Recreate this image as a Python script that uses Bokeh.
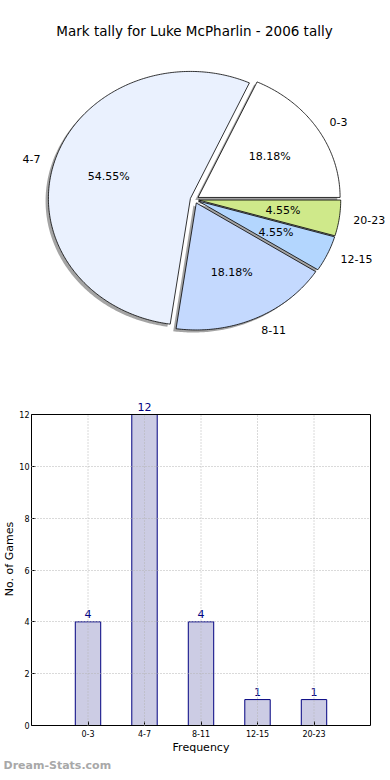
import numpy as np
from bokeh.plotting import figure
from bokeh.models import Range1d, FixedTicker, Label, LabelSet, ColumnDataSource, Title
from bokeh.embed import file_html
from bokeh.resources import INLINE
from bokeh.core.properties import value

# ---------------- data ----------------
title_text = "Mark tally for Luke McPharlin - 2006 tally"
categories = ["0-3", "4-7", "8-11", "12-15", "20-23"]
counts = [4, 12, 4, 1, 1]
pie_colors = ["#ffffff", "#eaf1fe", "#c4d9fe", "#b3d6fe", "#cfe98a"]
x_label = "Frequency"
y_label = "No. of Games"
y_ticks = [0, 2, 4, 6, 8, 10, 12]
y_max = 12
watermark = "Dream-Stats.com"

FONT = "DejaVu Sans"

# ---------------- pie ----------------
PW, PH = 390, 372
CX, CY = 194, 199      # pie centre in px (from left / top)
RX, RY = 142, 127      # radii in px
EXPLODE = 0.03
SHADOW = 0.02

pie = figure(width=PW, height=PH, output_backend="svg", toolbar_location=None,
             x_range=Range1d(-CX / RX, (PW - CX) / RX),
             y_range=Range1d(-(PH - CY) / RY, CY / RY),
             x_axis_location=None, y_axis_location=None, min_border=0)
pie.grid.visible = False
pie.outline_line_color = None

total = float(sum(counts))
fracs = np.array(counts) / total
ends = np.cumsum(fracs) * 2 * np.pi
starts = ends - fracs * 2 * np.pi
mids = (starts + ends) / 2

wx, wy, sx, sy = [], [], [], []
lx, ly, lal, tx, ty = [], [], [], [], []
for a0, a1, m in zip(starts, ends, mids):
    ox, oy = EXPLODE * np.cos(m), EXPLODE * np.sin(m)
    t = np.linspace(a0, a1, max(int((a1 - a0) * 80), 6))
    px = np.concatenate([[ox], ox + np.cos(t)])
    py = np.concatenate([[oy], oy + np.sin(t)])
    wx.append(list(px)); wy.append(list(py))
    sx.append(list(px - SHADOW)); sy.append(list(py - SHADOW))
    lx.append(ox + 1.1 * np.cos(m)); ly.append(oy + 1.1 * np.sin(m))
    lal.append("left" if np.cos(m) >= 0 else "right")
    tx.append(ox + 0.6 * np.cos(m)); ty.append(oy + 0.6 * np.sin(m))

pie.patches(xs=sx, ys=sy, fill_color="#4a4a4a", fill_alpha=0.5, line_color=None)
pie.patches(xs=wx, ys=wy, fill_color=pie_colors, line_color="black", line_width=0.8)

pct = [f"{f * 100:.2f}%" for f in fracs]
pie.text(x=lx, y=ly, text=categories, text_align=lal, text_baseline="middle",
         text_font=value(FONT), text_font_size="11px", text_color="black")
pie.text(x=tx, y=ty, text=pct, text_align="center", text_baseline="middle",
         text_font=value(FONT), text_font_size="11px", text_color="black")

pie.add_layout(Label(x=194, y=PH - 30, x_units="screen", y_units="screen",
                     text=title_text, text_align="center", text_baseline="middle",
                     text_font=FONT, text_font_size="13.5px", text_color="black"))

# ---------------- bar ----------------
LB, RB, TB = 31, 20, 20
FW, FH = 390 - LB - RB, 333
GAP_TOP = 22                       # px between frame top and the y_max line
YTOP = y_max * FH / (FH - GAP_TOP)
xpos = list(range(len(categories)))
XL, XR = -1, len(categories)

bar = figure(frame_width=FW, frame_height=FH, output_backend="svg", toolbar_location=None,
             x_range=Range1d(XL, XR), y_range=Range1d(0, YTOP),
             min_border_left=LB, min_border_right=RB, min_border_top=TB,
             min_border_bottom=0)
bar.outline_line_color = None

# dotted grid (drawn over bars)
bar.xgrid.visible = False
g = bar.ygrid[0]
g.ticker = FixedTicker(ticks=y_ticks[1:-1])
g.grid_line_color = "#b4b4b4"
g.grid_line_dash = "1 2"
g.level = "overlay"

bar.vbar(x=xpos, top=counts, width=0.45, fill_color="#ccccE4",
         line_color="#000080", line_width=1)
bar.segment(x0=xpos, y0=[0] * len(xpos), x1=xpos, y1=[y_max] * len(xpos),
            line_color="#b4b4b4", line_dash="1 2", line_width=1, level="overlay")

# frame spines: top and right (left/bottom are the axes)
bar.segment(x0=[XL, XR], y0=[y_max, 0], x1=[XR, XR], y1=[y_max, y_max],
            line_color="black", line_width=1, level="overlay")

bar.xaxis.ticker = FixedTicker(ticks=xpos)
bar.xaxis.major_label_overrides = {i: c for i, c in enumerate(categories)}
bar.yaxis.ticker = FixedTicker(ticks=y_ticks)
bar.yaxis.bounds = (0, y_max)
for ax in (bar.xaxis[0], bar.yaxis[0]):
    ax.major_label_text_font = FONT
    ax.major_label_text_font_size = "8px"
    ax.major_label_text_color = "black"
    ax.major_tick_in = 4
    ax.major_tick_out = 0
    ax.minor_tick_line_color = None
    ax.axis_line_color = "black"
    ax.major_tick_line_color = "black"
    ax.axis_label_text_font = FONT
    ax.axis_label_text_font_size = "11px"
    ax.axis_label_text_font_style = "normal"
    ax.axis_label_text_color = "black"
bar.yaxis.major_label_standoff = 2
bar.yaxis.axis_label_standoff = 0
bar.xaxis.major_label_standoff = 4
bar.xaxis.axis_label_standoff = 1
bar.xaxis.axis_label = x_label
bar.yaxis.axis_label = y_label

src = ColumnDataSource(dict(x=xpos, y=counts, t=[str(c) for c in counts]))
bar.add_layout(LabelSet(x="x", y="y", text="t", source=src, text_align="center",
                        text_baseline="bottom", y_offset=4, text_font=value(FONT),
                        text_font_size="11px", text_color="#000080"))

wm = Title(text=watermark, align="left", offset=-LB + 3, standoff=0,
           text_font=FONT, text_font_size="11px", text_font_style="bold",
           text_color="#a8a8a8")
bar.add_layout(wm, "below")

open("out.html", "w").write(file_html([pie, bar], INLINE))
